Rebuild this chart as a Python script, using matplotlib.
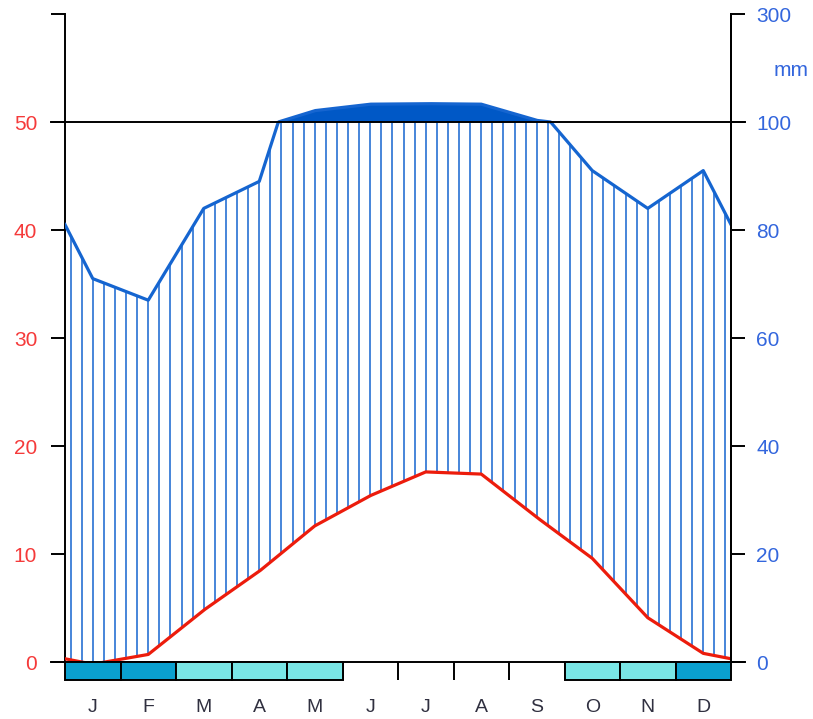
# Walter-Lieth climate diagram (temperature + precipitation)
import numpy as np
import matplotlib
matplotlib.use('Agg')
from matplotlib import pyplot as plt

plt.rcParams['font.family'] = ['Liberation Sans', 'DejaVu Sans']

months = ['J', 'F', 'M', 'A', 'M', 'J', 'J', 'A', 'S', 'O', 'N', 'D']
temp = [-0.2, 0.7, 4.8, 8.4, 12.6, 15.4, 17.6, 17.4, 13.4, 9.6, 4.1, 0.8]      # deg C
prec = [71, 67, 84, 89, 121, 133, 134, 133, 103, 91, 84, 91]                   # mm
# frost bar: 2 = sure frost, 1 = probable frost, 0 = none
frost = [2, 2, 1, 1, 1, 0, 0, 0, 0, 1, 1, 2]

left_ticks = [0, 10, 20, 30, 40, 50, 60]
left_labels = ['0', '10', '20', '30', '40', '50', '']
right_labels = ['0', '20', '40', '60', '80', '100', '300']

c_red = '#ec1c0c'
c_blue = '#1565d0'
c_fill = '#0058c6'
c_lab_r = '#f53a3a'
c_lab_b = '#3366dd'
frost_col = {2: '#0aa0cf', 1: '#79e6e6'}


def to_scale(p):
    # 0-100 mm -> 0-50, above 100 mm compressed 1:20
    p = np.asarray(p, dtype=float)
    return np.where(p <= 100, p / 2.0, 50 + (p - 100) / 20.0)


# wrap december / january round the year, values at month centres
xc = np.arange(-1, 13) + 0.5
tw = np.r_[temp[-1], temp, temp[0]]
pw = np.r_[prec[-1], prec, prec[0]]

xg = np.linspace(0, 12, 1201)
tg = np.interp(xg, xc, tw)
pg = to_scale(np.interp(xg, xc, pw))

fig = plt.figure(figsize=(8.13, 7.19), dpi=100)
ax = fig.add_axes([65 / 813, 57 / 719, 666 / 813, 648 / 719])
ax.set_xlim(0, 12)
ax.set_ylim(0, 60)

# hatching between temperature and precipitation
xh = (np.arange(60) + 0.5) / 5.0
th = np.interp(xh, xc, tw)
ph = np.minimum(to_scale(np.interp(xh, xc, pw)), 50)
ax.vlines(xh, th, ph, color=c_blue, lw=1.1, zorder=2)

# solid fill above 100 mm
ax.fill_between(xg, 50, pg, where=pg > 50, color=c_fill, lw=0, zorder=3)

ax.plot(xg, pg, color=c_blue, lw=2.3, zorder=4)
ax.plot(xg, tg, color=c_red, lw=2.3, zorder=5)

# horizontal lines at 0 and 50 (100 mm)
for yy in (0, 50):
    ax.axhline(yy, xmin=-14 / 666, xmax=1 + 14 / 666, color='black',
               lw=1.4, clip_on=False, zorder=6)

# frost bar below zero
bar_h = 1.66
ax.vlines(np.arange(1, 12), -bar_h, 0, color='black', lw=1.4,
          clip_on=False, zorder=6)
for i, f in enumerate(frost):
    if f:
        ax.bar(i + 0.5, -bar_h, width=1.0, bottom=0, color=frost_col[f],
               edgecolor='black', lw=1.4, clip_on=False, zorder=7)

for i, m in enumerate(months):
    ax.text(i + 0.5, -4.25, m, ha='center', va='center', fontsize=14,
            color='#303040')

# axes / ticks
for s in ('top', 'bottom'):
    ax.spines[s].set_visible(False)
ax.spines['left'].set_linewidth(1.4)
ax.spines['right'].set_linewidth(1.4)
ax.set_xticks([])
ax.set_yticks(left_ticks)
ax.set_yticklabels(left_labels)
ax.tick_params(axis='y', length=10, width=1.4, pad=10, labelsize=15,
               labelcolor=c_lab_r)

ax2 = ax.twinx()
ax2.set_ylim(0, 60)
ax2.set_yticks(left_ticks)
ax2.set_yticklabels(right_labels)
ax2.tick_params(axis='y', length=10, width=1.4, pad=8, labelsize=15,
                labelcolor=c_lab_b)
for s in ('top', 'bottom', 'left'):
    ax2.spines[s].set_visible(False)
ax2.spines['right'].set_linewidth(1.4)

fig.text(791 / 813, 1 - 70 / 719, 'mm', ha='center', va='center',
         fontsize=15, color=c_lab_b)

fig.savefig('out.png', dpi=100)
